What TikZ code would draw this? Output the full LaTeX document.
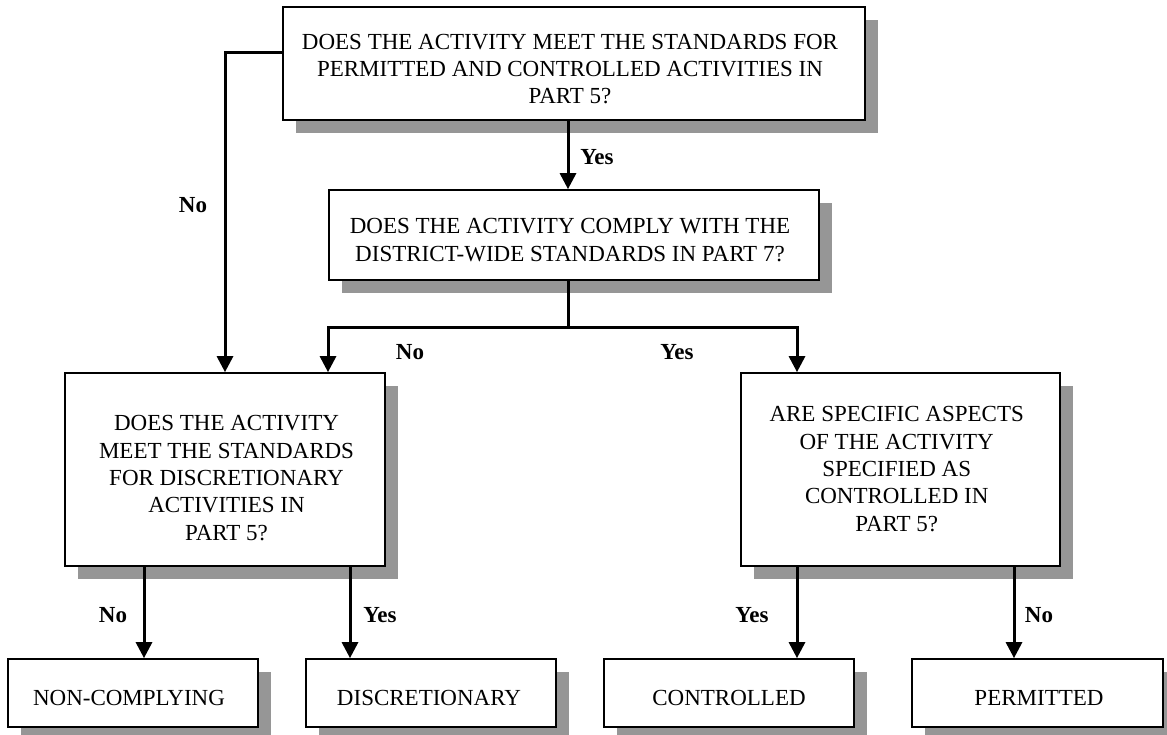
\documentclass[tikz,border=0pt]{standalone}
\usepackage{fontspec}
\setmainfont{Liberation Serif}
\usetikzlibrary{arrows.meta,shadows}
\definecolor{shadowgray}{RGB}{150,150,150}
\begin{document}
\begin{tikzpicture}[x=1pt,y=-1pt,
  box/.style={draw=black, line width=1.7pt, fill=white, inner sep=0pt,
    general shadow={fill=shadowgray, shadow xshift=12.5pt, shadow yshift=-12.5pt}},
  txt/.style={align=center, inner sep=0pt, font=\fontsize{23}{27.3}\selectfont},
  lbl/.style={inner sep=0pt, font=\fontsize{23}{27}\selectfont\bfseries},
  conn/.style={line width=3pt},
  arr/.style={conn, -{Triangle[width=16pt,length=16pt]}}]
\useasboundingbox (0,0) rectangle (1167,734);

% boxes
\node[box, minimum width=582pt, minimum height=113pt] (b1) at (574,63.5) {};
\node[box, minimum width=490pt, minimum height=90pt] (b2) at (574,235) {};
\node[box, minimum width=320pt, minimum height=193pt] (b3) at (225,469.5) {};
\node[box, minimum width=319pt, minimum height=193pt] (b4) at (900.5,469.5) {};
\node[box, minimum width=250pt, minimum height=68pt] (b5) at (133,693) {};
\node[box, minimum width=250pt, minimum height=68pt] (b6) at (431,693) {};
\node[box, minimum width=250pt, minimum height=68pt] (b7) at (729,693) {};
\node[box, minimum width=251pt, minimum height=68pt] (b8) at (1037.5,693) {};

% texts
\node[txt] (t1) at (570,69) {DOES THE ACTIVITY MEET THE STANDARDS FOR\\PERMITTED AND CONTROLLED ACTIVITIES IN\\PART 5?};
\node[txt] (t2) at (570,240) {DOES THE ACTIVITY COMPLY WITH THE\\DISTRICT-WIDE STANDARDS IN PART 7?};
\node[txt] (t3) at (226.5,478) {DOES THE ACTIVITY\\MEET THE STANDARDS\\FOR DISCRETIONARY\\ACTIVITIES IN\\PART 5?};
\node[txt] (t4) at (896.7,469) {ARE SPECIFIC ASPECTS\\OF THE ACTIVITY\\SPECIFIED AS\\CONTROLLED IN\\PART 5?};
\node[txt] (t5) at (129,697.5) {NON-COMPLYING};
\node[txt] (t6) at (429,697.5) {DISCRETIONARY};
\node[txt] (t7) at (729,697.5) {CONTROLLED};
\node[txt] (t8) at (1039,697.5) {PERMITTED};

% connectors
\draw[arr] ([xshift=-6pt]b1.south) -- ([xshift=-6pt]b2.north);
\draw[arr] ([yshift=11.5pt]b1.west) -| (b3.north);
\coordinate (sp) at (568,327);
\draw[conn] ([xshift=-6pt]b2.south) -- (sp);
\draw[arr] (sp) -| ([xshift=103pt]b3.north);
\draw[arr] (sp) -| ([xshift=-103.5pt]b4.north);
\draw[arr] ([xshift=-81pt]b3.south) -- ([xshift=11pt]b5.north);
\draw[arr] ([xshift=125pt]b3.south) -- ([xshift=-81pt]b6.north);
\draw[arr] ([xshift=-103.5pt]b4.south) -- ([xshift=68pt]b7.north);
\draw[arr] ([xshift=113.5pt]b4.south) -- ([xshift=-23.5pt]b8.north);

% labels
\node[lbl] (l1) at (597,157) {Yes};
\node[lbl] (l2) at (193,205) {No};
\node[lbl] (l3) at (410,352) {No};
\node[lbl] (l4) at (677,352) {Yes};
\node[lbl] (l5) at (113,615) {No};
\node[lbl] (l6) at (380,615) {Yes};
\node[lbl] (l7) at (752,615) {Yes};
\node[lbl] (l8) at (1039,615) {No};
\end{tikzpicture}
\end{document}
